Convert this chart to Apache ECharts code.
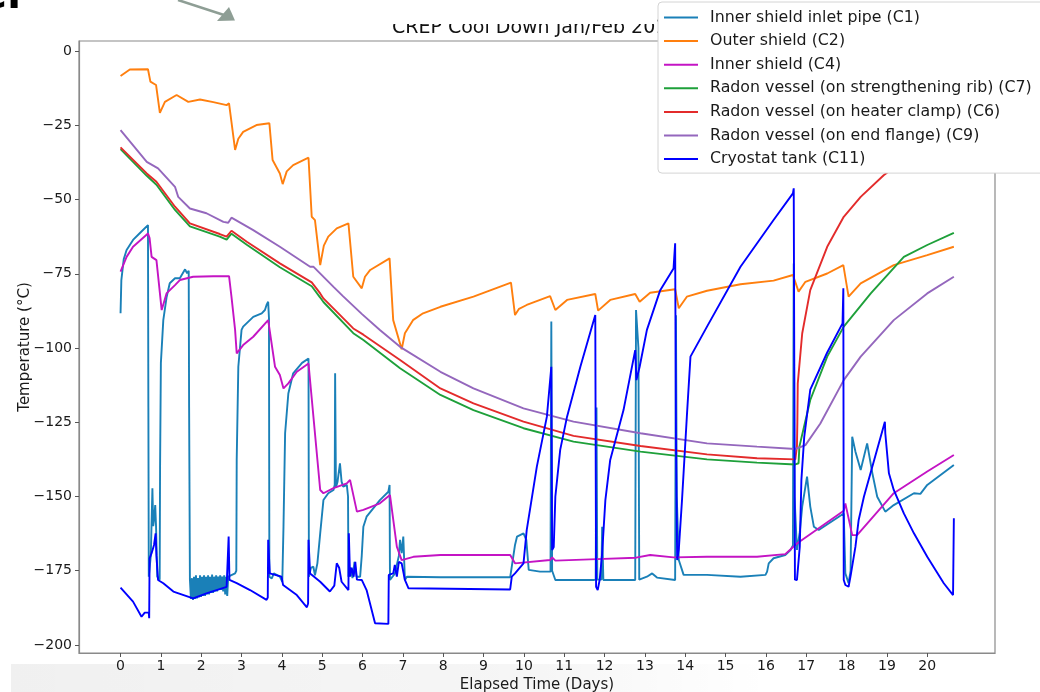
<!DOCTYPE html>
<html><head><meta charset="utf-8">
<script src="https://cdn.jsdelivr.net/npm/echarts@6/dist/echarts.min.js"></script>
<style>html,body{margin:0;padding:0;background:#fff;overflow:hidden}#c{width:1040px;height:692px}</style>
</head><body><div id="c"></div>
<script>
const titleText = 'CREP Cool Down Jan/Feb 2019';
const seriesNames = [
  'Inner shield inlet pipe (C1)',
  'Outer shield (C2)',
  'Inner shield (C4)',
  'Radon vessel (on strengthening rib) (C7)',
  'Radon vessel (on heater clamp) (C6)',
  'Radon vessel (on end flange) (C9)',
  'Cryostat tank (C11)'
];
const seriesColors = ['#1a80b8', '#ff7f0e', '#c414c4', '#1ea03a', '#e32b2b', '#9467bd', '#0000ff'];
const xTicks = [0,1,2,3,4,5,6,7,8,9,10,11,12,13,14,15,16,17,18,19,20];
const yTicks = [-200,-175,-150,-125,-100,-75,-50,-25,0];

// [elapsed days, temperature °C]
const c1 = [[0,-88.3],[0.02,-77.1],[0.08,-70],[0.15,-67.0],[0.31,-63.6],[0.5,-61],[0.68,-58.6],[0.69,-120],[0.7,-177],[0.75,-170],[0.79,-147.2],[0.81,-160],[0.83,-157.9],[0.86,-152.9],[0.88,-160],[0.91,-177],[0.97,-178],[0.98,-140],[1.0,-105],[1.06,-90.6],[1.14,-83],[1.22,-78.2],[1.35,-76.5],[1.39,-76],[1.47,-76.5],[1.6,-73.5],[1.65,-74.8],[1.69,-74],[1.7,-120],
  [1.72,-178],[1.745,-184.5],[1.77,-177.5],[1.795,-184.8],[1.82,-177],[1.845,-184.5],[1.87,-176.5],[1.895,-184.3],[1.92,-177.5],[1.945,-184],[1.97,-176.5],[1.995,-183.8],[2.02,-177],[2.045,-183.5],[2.07,-176.5],[2.095,-183.5],[2.12,-177],[2.145,-183],[2.17,-176.5],[2.195,-183],[2.22,-177],[2.245,-182.5],[2.27,-176.3],[2.295,-182.5],[2.32,-177],[2.345,-182],[2.37,-176.5],[2.395,-182],[2.42,-177],[2.445,-181.5],[2.47,-176.5],[2.495,-181.5],[2.52,-177],[2.545,-182],[2.57,-176.5],[2.595,-183],[2.62,-177],[2.645,-183.5],[2.67,-177],
  [2.69,-176.4],[2.84,-175.9],[2.87,-175],[2.88,-137.7],[2.92,-106.3],[3.0,-93.9],[3.04,-92.8],[3.29,-89.5],[3.5,-88.3],[3.58,-87.2],[3.62,-85.5],[3.66,-84.4],[3.68,-90],[3.69,-177],[3.75,-177.6],[3.8,-175.9],[3.95,-177],[4.01,-178.7],[4.04,-160],[4.08,-128.7],[4.16,-115.3],[4.28,-108.5],[4.5,-105],[4.66,-103.5],[4.67,-177],[4.72,-174],[4.78,-173.6],[4.82,-176.5],[4.88,-172.5],[4.95,-162.4],[5.03,-151.2],[5.15,-148.9],[5.28,-147.8],[5.31,-146],[5.32,-108.5],[5.34,-147],[5.38,-145],[5.44,-138.8],[5.48,-145],[5.52,-146.7],[5.61,-146.1],[5.64,-150],[5.65,-177],[5.7,-174],[5.75,-177.5],[5.8,-172],[5.85,-177],[5.94,-177],[5.98,-170],[6.02,-160.2],[6.1,-156.8],[6.43,-151.2],[6.64,-148.4],[6.67,-146.1],[6.68,-178.1],[6.8,-176],[6.9,-170],[6.93,-164.6],[6.97,-169.1],[7.01,-163.5],[7.05,-178.1],[7.1,-177],[7.93,-177.2],[9.66,-177.2],[9.7,-177],[9.78,-166.3],[9.83,-163.5],[9.99,-162.4],[10.06,-164.6],[10.12,-174.7],[10.4,-175.3],[10.66,-175.3],[10.68,-91.1],[10.7,-175],[10.78,-178.1],[11.73,-178.1],[11.78,-178],[11.8,-120],[11.82,-178],[11.92,-178],[11.94,-160.2],[11.97,-178.1],[12.76,-178.1],[12.78,-87.2],[12.84,-100],[12.86,-178],[13.05,-177],[13.18,-175.9],[13.3,-177.3],[13.75,-178.1],[13.77,-89],[13.79,-150],[13.84,-171.4],[13.96,-176.4],[14.54,-176.4],[15.37,-177],[15.99,-176.4],[16.03,-175.3],[16.07,-172.5],[16.19,-170.8],[16.48,-169.7],[16.61,-168],[16.67,-166.5],[16.69,-71.5],[16.71,-150],[16.77,-168],[16.84,-162],[16.9,-153.4],[17.02,-143.3],[17.1,-153.4],[17.19,-160.2],[17.31,-161.3],[17.93,-155.7],[17.97,-175.9],[18.05,-179.2],[18.1,-175],[18.14,-129.9],[18.22,-134.9],[18.35,-141.1],[18.51,-132.1],[18.64,-142.2],[18.76,-150.1],[18.96,-155.1],[19.17,-152.9],[19.67,-148.9],[19.83,-149.1],[20.0,-146.1],[20.66,-139.4]];

const c2 = [[0,-8.4],[0.23,-6.2],[0.68,-6.1],[0.74,-10.3],[0.88,-11.4],[0.975,-20.8],[1.1,-17.1],[1.39,-14.8],[1.68,-17.1],[1.97,-16.3],[2.3,-17.2],[2.63,-18.2],[2.69,-17.6],[2.84,-33.3],[2.92,-29.5],[3.04,-27.2],[3.37,-24.9],[3.69,-24.3],[3.77,-36.7],[3.95,-41.2],[4.02,-44.8],[4.12,-40.5],[4.28,-38.4],[4.66,-35.9],[4.74,-55.8],[4.82,-56.9],[4.95,-72.1],[5.04,-65.5],[5.15,-62.5],[5.36,-59.7],[5.65,-58.0],[5.77,-76.0],[5.98,-79.9],[6.06,-76],[6.19,-73.7],[6.67,-69.8],[6.76,-90.6],[6.97,-100.4],[7.05,-95],[7.25,-90.6],[7.5,-88.3],[7.93,-86.1],[8.75,-82.7],[9.68,-78.0],[9.78,-88.9],[9.88,-86.8],[10.07,-85.5],[10.65,-82.5],[10.78,-87.2],[11.07,-83.8],[11.77,-81.8],[11.84,-87.4],[12.14,-83.8],[12.76,-81.8],[12.87,-84.4],[13.13,-81.4],[13.75,-80.2],[13.84,-86.6],[14.04,-82.7],[14.54,-80.7],[15.37,-78.5],[16.19,-77.3],[16.67,-75.4],[16.81,-81.0],[16.98,-77.7],[17.52,-74.9],[17.92,-72.1],[18.05,-82.7],[18.35,-78.2],[19.17,-72.1],[20.0,-68.7],[20.66,-65.9]];

const c4 = [[0,-74.3],[0.15,-69.3],[0.31,-65.9],[0.68,-61.4],[0.72,-63],[0.77,-69.3],[0.89,-70.4],[1.02,-87.2],[1.14,-81.6],[1.35,-78.8],[1.47,-77.1],[1.8,-76.0],[2.3,-75.8],[2.69,-75.8],[2.75,-82.7],[2.84,-93.9],[2.88,-101.8],[3.04,-99.0],[3.29,-96.2],[3.66,-90.6],[3.7,-90.6],[3.83,-106.3],[3.95,-109.1],[4.04,-113.6],[4.16,-111.9],[4.37,-108.0],[4.66,-105.2],[4.7,-105.5],[4.95,-147.8],[5.03,-148.9],[5.28,-147.2],[5.61,-145.6],[5.69,-144.4],[5.86,-155.1],[6.02,-154.5],[6.43,-152.3],[6.68,-149.5],[6.85,-166.9],[6.97,-171.4],[7.26,-170.3],[7.93,-169.7],[9.66,-169.7],[9.78,-172.5],[10.65,-171.4],[10.7,-170.5],[10.78,-171.6],[11.81,-171.1],[12.78,-170.6],[13.13,-169.7],[13.71,-170.5],[14.54,-170.3],[15.78,-170.3],[16.48,-169.4],[16.77,-165.8],[17.93,-154.8],[17.97,-152.3],[18.14,-163.0],[18.26,-163.0],[19.17,-148.9],[20.0,-141.6],[20.66,-136.0]];

const c7 = [[0,-33.0],[0.65,-42.0],[0.89,-45.0],[1.35,-53.5],[1.72,-59.0],[2.46,-62.5],[2.63,-63.5],[2.75,-61.5],[3.13,-65.2],[3.95,-72.8],[4.74,-79.2],[4.95,-83.0],[5.03,-84.5],[5.77,-95.0],[6.02,-97.3],[6.93,-106.8],[7.93,-115.8],[8.75,-120.9],[9.99,-127.0],[11.23,-131.5],[12.89,-134.9],[14.54,-137.5],[15.78,-138.6],[16.73,-139.2],[16.81,-138.8],[16.83,-133.2],[17.1,-117.5],[17.52,-102.9],[17.93,-92.8],[18.6,-81.6],[19.42,-69.3],[20.0,-65.3],[20.66,-61.2]];

const c6 = [[0,-32.4],[0.65,-41.2],[0.89,-44.0],[1.35,-52.4],[1.72,-58.0],[2.46,-61.6],[2.63,-62.5],[2.75,-60.5],[3.13,-64.2],[3.95,-71.5],[4.74,-77.9],[4.95,-81.6],[5.03,-83.3],[5.77,-93.4],[6.02,-95.5],[6.93,-104.0],[7.93,-113.6],[8.75,-118.6],[9.99,-124.8],[11.23,-129.6],[12.89,-133.0],[14.54,-135.8],[15.78,-137.1],[16.73,-137.5],[16.77,-133],[16.78,-125],[16.79,-111.9],[16.9,-95.1],[17.1,-80.5],[17.52,-65.9],[17.93,-55.8],[18.35,-49.1],[18.92,-41.8],[19.6,-35],[20.66,-27]];

const c9 = [[0,-26.6],[0.65,-37.3],[0.93,-39.5],[1.35,-45.7],[1.43,-49.1],[1.72,-53.0],[2.13,-54.6],[2.55,-57.5],[2.67,-57.8],[2.75,-56.1],[3.29,-60.3],[3.95,-65.9],[4.7,-72.6],[4.78,-72.6],[5.28,-79.4],[5.52,-82.6],[5.98,-88.5],[6.43,-93.9],[6.93,-99.6],[7.93,-108.0],[8.75,-113.6],[9.99,-120.3],[11.23,-124.8],[12.89,-128.7],[14.54,-132.1],[15.78,-133.2],[16.73,-134.0],[16.77,-133.6],[16.98,-132.7],[17.35,-125.4],[17.93,-110.8],[18.35,-102.9],[19.17,-90.6],[20.0,-81.6],[20.66,-76.0]];

const c11 = [[0,-180.7],[0.31,-185.4],[0.52,-190.5],[0.6,-189.1],[0.7,-189.1],[0.71,-191],[0.72,-170.8],[0.77,-169.1],[0.83,-166.3],[0.87,-162.4],[0.89,-170],[0.93,-178.1],[1.06,-179.2],[1.31,-182],[1.8,-184.3],[2.13,-182.6],[2.63,-180.4],[2.67,-180],[2.68,-163.5],[2.7,-178.1],[2.88,-179.2],[3.21,-181.5],[3.62,-184.8],[3.65,-184],[3.66,-164.6],[3.7,-175.9],[3.99,-177],[4.03,-179.8],[4.37,-183.2],[4.62,-187.3],[4.65,-186],[4.66,-164.6],[4.7,-175.9],[4.95,-178.7],[5.19,-182],[5.3,-180],[5.36,-172.5],[5.42,-174],[5.48,-178.7],[5.65,-181.5],[5.66,-162.4],[5.69,-177],[5.73,-174],[5.78,-177],[5.82,-172],[5.86,-178],[5.98,-178.1],[6.1,-181.5],[6.31,-192.7],[6.64,-192.9],[6.65,-176.4],[6.76,-175.9],[6.8,-173],[6.85,-177],[6.9,-172],[6.97,-172.5],[7.05,-178.1],[7.14,-180.9],[9.66,-181.3],[9.7,-177],[9.78,-175.9],[9.99,-172.5],[10.07,-161.3],[10.32,-140],[10.57,-123.1],[10.68,-106.3],[10.7,-168],[10.74,-167],[10.78,-150],[10.9,-134.3],[11.07,-123.1],[11.4,-106.3],[11.77,-88.9],[11.79,-180.4],[11.83,-181.5],[11.88,-178],[11.94,-169.1],[12.02,-151.2],[12.14,-137.7],[12.47,-120.9],[12.76,-100.7],[12.79,-110.8],[12.87,-106.3],[13.05,-93.9],[13.38,-80.5],[13.71,-73.2],[13.75,-64.7],[13.77,-130],[13.8,-171.4],[13.84,-168],[13.92,-151.2],[14.04,-123.1],[14.13,-102.9],[14.54,-92.8],[15.37,-72.6],[16.19,-56.9],[16.67,-47.9],[16.69,-46.2],[16.72,-178],[16.77,-178.1],[16.81,-178.7],[16.84,-166.9],[16.88,-144.4],[16.95,-130],[17.1,-114],[17.52,-101.5],[17.9,-91.7],[17.92,-79.9],[17.93,-178.1],[17.97,-179.8],[18.05,-180.4],[18.1,-176.7],[18.22,-166.9],[18.3,-157.9],[18.43,-150.1],[18.95,-124.8],[18.96,-128.7],[19.05,-142.2],[19.17,-147.8],[19.42,-155.7],[19.67,-162.4],[20.0,-170.3],[20.41,-179.2],[20.64,-183.2],[20.66,-157.3]];

const seriesData = [c1, c2, c4, c7, c6, c9, c11];

const FONT = "'DejaVu Sans', sans-serif";
const chart = echarts.init(document.getElementById('c'), null, {renderer: 'canvas'});
const fmtY = v => (v < 0 ? '\u2212' + Math.abs(v) : String(v));

chart.setOption({
  animation: false,
  backgroundColor: '#fff',
  title: {
    text: titleText, left: 392, top: 19, padding: 0, z: 1,
    textStyle: {fontFamily: FONT, fontSize: 19, fontWeight: 'normal', color: '#111'}
  },
  grid: {left: 79, right: 45, top: 41, bottom: 39, outerBoundsMode: 'none', containLabel: false,
    show: true, borderColor: '#8a8a8a', borderWidth: 1.2, backgroundColor: 'transparent'},
  legend: {
    orient: 'vertical', left: 658, top: 2, data: seriesNames, selectedMode: false, z: 20,
    icon: 'rect', itemWidth: 34, itemHeight: 2, itemGap: 5.6,
    padding: [6.5, 40, 5, 6],
    backgroundColor: '#fff', borderColor: '#d4d4d4', borderWidth: 1, borderRadius: 4,
    textStyle: {fontFamily: FONT, fontSize: 15.8, color: '#1a1a1a', lineHeight: 18, padding: [0, 0, 0, 7]}
  },
  xAxis: {
    type: 'value', min: -1.03, max: 21.68,
    name: 'Elapsed Time (Days)', nameLocation: 'middle', nameGap: 25, nameMoveOverlap: false,
    nameTextStyle: {fontFamily: FONT, fontSize: 15, color: '#1a1a1a'},
    axisLine: {show: true, onZero: false, lineStyle: {color: '#8a8a8a', width: 1.2}},
    axisTick: {show: true, length: 4, customValues: xTicks, lineStyle: {color: '#555'}},
    axisLabel: {customValues: xTicks, margin: 6, fontFamily: FONT, fontSize: 14, color: '#1a1a1a'},
    splitLine: {show: false}
  },
  yAxis: {
    type: 'value', min: -202.7, max: 3.4,
    name: 'Temperature (\u00B0C)', nameLocation: 'middle', nameGap: 46, nameRotate: 90, nameMoveOverlap: false,
    nameTextStyle: {fontFamily: FONT, fontSize: 15, color: '#1a1a1a'},
    axisLine: {show: true, onZero: false, lineStyle: {color: '#8a8a8a', width: 1.2}},
    axisTick: {show: true, length: 4, customValues: yTicks, lineStyle: {color: '#555'}},
    axisLabel: {customValues: yTicks, margin: 7, fontFamily: FONT, fontSize: 14, color: '#1a1a1a', formatter: fmtY},
    splitLine: {show: false}
  },
  series: seriesNames.map((n, i) => ({
    name: n, type: 'line', data: seriesData[i], showSymbol: false, symbol: 'none',
    color: seriesColors[i], lineStyle: {width: 1.9, color: seriesColors[i]},
    emphasis: {disabled: true}, silent: true, z: 2 + i * 0.01
  })),
  graphic: [
    {type: 'rect', z: -10, shape: {x: 11, y: 664, width: 760, height: 28},
     style: {fill: new echarts.graphic.LinearGradient(0, 0, 1, 0, [{offset: 0, color: 'rgba(0,0,0,0.06)'}, {offset: 0.7, color: 'rgba(0,0,0,0.035)'}, {offset: 1, color: 'rgba(0,0,0,0)'}])}},
    {type: 'rect', z: 10, shape: {x: 385, y: 0, width: 272, height: 24}, style: {fill: '#fff'}},
    {type: 'text', z: 101, left: -20, top: -22, style: {text: 'er', font: "bold 40px 'DejaVu Sans'", fill: '#000'}},
    {type: 'polyline', z: 101, shape: {points: [[178, 0], [224, 15]]}, style: {stroke: '#8e9e95', lineWidth: 2.5}},
    {type: 'polygon', z: 101, shape: {points: [[235, 20.5], [217, 21], [229, 7]]}, style: {fill: '#8e9e95'}}
  ]
});
</script>
</body></html>
